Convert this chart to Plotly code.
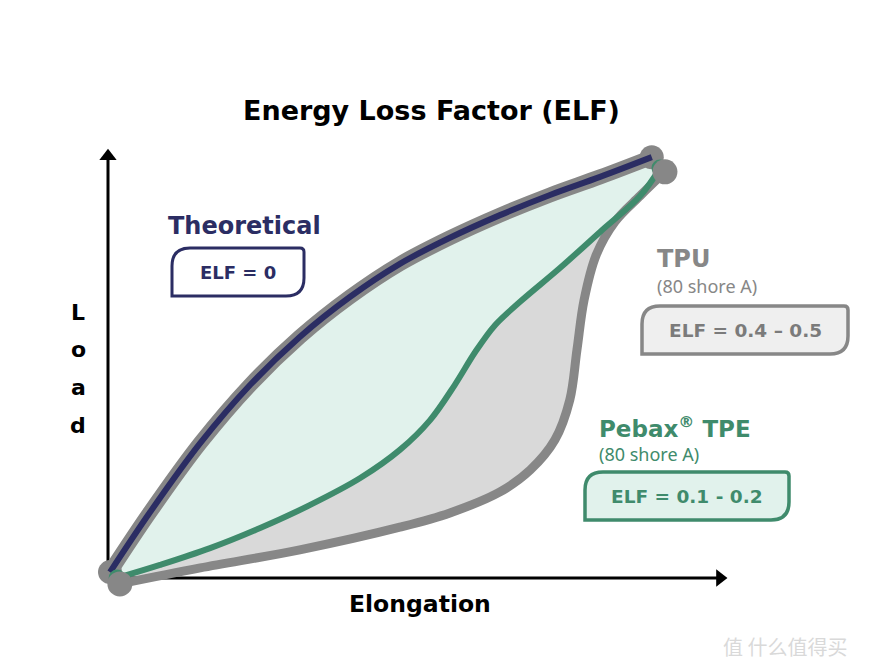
import plotly.graph_objects as go

# ---------------- data (elongation, load in arbitrary schematic units) ----------------
theo_e = [0, 7.3, 16.4, 25.5, 34.5, 43.6, 52.7, 61.8, 70.9, 80.0, 89.1, 98.5]
theo_l = [1.4, 15.7, 32.1, 46.0, 57.4, 66.9, 74.8, 81.0, 86.4, 91.2, 95.5, 100.2]

pebax_e = [1.3, 9.1, 18.2, 27.3, 36.4, 45.5, 52.7, 58.2, 62.7, 66.4, 70.0, 74.5, 81.8, 89.1, 96.4, 100.0]
pebax_l = [0.0, 3.1, 7.1, 11.9, 17.4, 23.8, 30.5, 37.6, 46.0, 53.8, 60.2, 65.7, 73.8, 82.4, 91.0, 97.6]

tpu_e = [1.8, 16.4, 34.5, 52.7, 61.8, 70.9, 76.4, 80.9, 83.6, 84.9, 86.2, 88.4, 91.8, 96.4, 100.9]
tpu_l = [-1.4, 2.4, 6.7, 12.1, 15.5, 20.5, 25.7, 32.9, 42.4, 54.3, 66.2, 76.9, 84.8, 91.0, 96.7]

axis_x_end = 112.9
axis_y_end = 102.4

title_text = "Energy Loss Factor (ELF)"
x_label = "Elongation"
y_label_letters = ["L", "o", "a", "d"]
series_names = ["Theoretical", "TPU", "Pebax<sup>®</sup> TPE"]
subtitles = ["(80 shore A)", "(80 shore A)"]
elf_labels = ["ELF = 0", "ELF = 0.4 – 0.5", "ELF = 0.1 - 0.2"]
watermark = "值 什么值得买"

# ---------------- styling ----------------
NAVY = "#2b2d63"
GREEN = "#3f8b6c"
GRAY = "#878787"
GRAY_FILL = "#d9d9d9"
GREEN_FILL = "#e1f2ec"
W, H = 876, 672
PX_E, PX_L = 5.5, 4.2   # pixels per unit
X0_PX, Y0_PX = 110, 578


def px_to_data(px, py):
    return (px - X0_PX) / PX_E, (Y0_PX - py) / PX_L


xr = [px_to_data(0, 0)[0], px_to_data(W, 0)[0]]
yr = [px_to_data(0, H)[1], px_to_data(0, 0)[1]]

SM = 1.0
fig = go.Figure()


def dots(xs, ys, size, color):
    fig.add_trace(go.Scatter(x=xs, y=ys, mode="markers", opacity=1,
                             marker=dict(size=size, color=color, opacity=1, line=dict(width=0)),
                             hoverinfo="skip", showlegend=False))


# fills
fig.add_trace(go.Scatter(
    x=theo_e + tpu_e[::-1], y=theo_l + tpu_l[::-1], mode="lines",
    line=dict(width=0, shape="spline", smoothing=SM), fill="toself", fillcolor=GRAY_FILL,
    hoverinfo="skip", showlegend=False))
fig.add_trace(go.Scatter(
    x=theo_e + pebax_e[::-1], y=theo_l + pebax_l[::-1], mode="lines",
    line=dict(width=0, shape="spline", smoothing=SM), fill="toself", fillcolor=GREEN_FILL,
    hoverinfo="skip", showlegend=False))

# axes (lines + arrowheads)
ax_e = px_to_data(108, 0)[0]
fig.add_trace(go.Scatter(x=[ax_e, ax_e], y=[0, axis_y_end - 2], mode="lines",
                         line=dict(color="black", width=3), hoverinfo="skip", showlegend=False))
fig.add_trace(go.Scatter(x=[ax_e, axis_x_end - 2], y=[0, 0], mode="lines",
                         line=dict(color="black", width=3), hoverinfo="skip", showlegend=False))
dots([ax_e], [axis_y_end - 2], 15, "black")
fig.data[-1].marker.symbol = "triangle-up"
dots([axis_x_end - 2], [0], 15, "black")
fig.data[-1].marker.symbol = "triangle-right"

# gray outline of loading curve
dots([theo_e[0], theo_e[-1]], [theo_l[0], theo_l[-1]], 24, GRAY)
fig.add_trace(go.Scatter(x=theo_e, y=theo_l, mode="lines",
                         line=dict(color=GRAY, width=15, shape="spline", smoothing=SM),
                         hoverinfo="skip", showlegend=False))
# TPU unloading
fig.add_trace(go.Scatter(x=tpu_e, y=tpu_l, mode="lines",
                         line=dict(color=GRAY, width=9, shape="spline", smoothing=SM),
                         hoverinfo="skip", showlegend=False))
# theoretical
fig.add_trace(go.Scatter(x=theo_e, y=theo_l, mode="lines",
                         line=dict(color=NAVY, width=6, shape="spline", smoothing=SM),
                         hoverinfo="skip", showlegend=False))
# pebax
dots([pebax_e[0], pebax_e[-1]], [pebax_l[0], pebax_l[-1]], 17, GREEN)
fig.add_trace(go.Scatter(x=pebax_e, y=pebax_l, mode="lines",
                         line=dict(color=GREEN, width=6, shape="spline", smoothing=SM),
                         hoverinfo="skip", showlegend=False))
# gray end dots of TPU curve
dots([tpu_e[0], tpu_e[-1]], [tpu_l[0], tpu_l[-1]], 25, GRAY)


def box_path(x0, y0, x1, y1, R=18, r=4):
    def P(px, py):
        e, l = px_to_data(px, py)
        return f"{e:.3f},{l:.3f}"
    return (f"M {P(x0+R, y0)} L {P(x1-r, y0)} Q {P(x1, y0)} {P(x1, y0+r)} "
            f"L {P(x1, y1-R)} Q {P(x1, y1)} {P(x1-R, y1)} L {P(x0, y1)} "
            f"L {P(x0, y0+R)} Q {P(x0, y0)} {P(x0+R, y0)} Z")


shapes = [
    dict(type="path", path=box_path(172, 248, 304, 296), xref="x", yref="y",
         line=dict(color=NAVY, width=3), fillcolor="white"),
    dict(type="path", path=box_path(642, 306, 848, 354), xref="x", yref="y",
         line=dict(color=GRAY, width=3.5), fillcolor="#efefef"),
    dict(type="path", path=box_path(585, 472, 789, 520), xref="x", yref="y",
         line=dict(color=GREEN, width=3.5), fillcolor=GREEN_FILL),
]

BOLD = "DejaVu Sans"
REG = "Noto Sans"
ann = []


def T(text, px, py, size, color, xanchor="center", bold=True, family=BOLD):
    ann.append(dict(text=f"<b>{text}</b>" if bold else text, x=px / W, y=1 - py / H,
                    xref="paper", yref="paper", showarrow=False, xanchor=xanchor,
                    yanchor="middle", font=dict(size=size, color=color, family=family)))


T(title_text, 431, 111, 27, "black")
T(series_names[0], 166, 226, 24, NAVY, "left")
T(elf_labels[0], 238, 272, 18, NAVY)
T(series_names[1], 655, 259, 24, GRAY, "left")
T(subtitles[0], 655, 286, 18, GRAY, "left", bold=False, family=REG)
T(elf_labels[1], 745, 330, 18.5, "#7b7b7b")
T(series_names[2], 597, 427, 23, GREEN, "left")
T(subtitles[1], 597, 454, 18, GREEN, "left", bold=False, family=REG)
T(elf_labels[2], 687, 496, 18.5, GREEN)
T(x_label, 420, 604, 23.5, "black")
for i, ch in enumerate(y_label_letters):
    T(ch, 78, 312 + i * 37.7, 22, "black")
T(watermark, 785, 646, 20, "#d9d9d9", bold=False, family="Noto Sans CJK SC")

fig.update_layout(
    width=W, height=H, margin=dict(l=0, r=0, t=0, b=0),
    paper_bgcolor="white", plot_bgcolor="white",
    xaxis=dict(range=xr, visible=False, fixedrange=True),
    yaxis=dict(range=yr, visible=False, fixedrange=True),
    shapes=shapes, annotations=ann, showlegend=False,
)

fig.write_html("out.html", config={"displayModeBar": False},
               post_script="document.body.style.margin='0';document.body.style.padding='0';")
